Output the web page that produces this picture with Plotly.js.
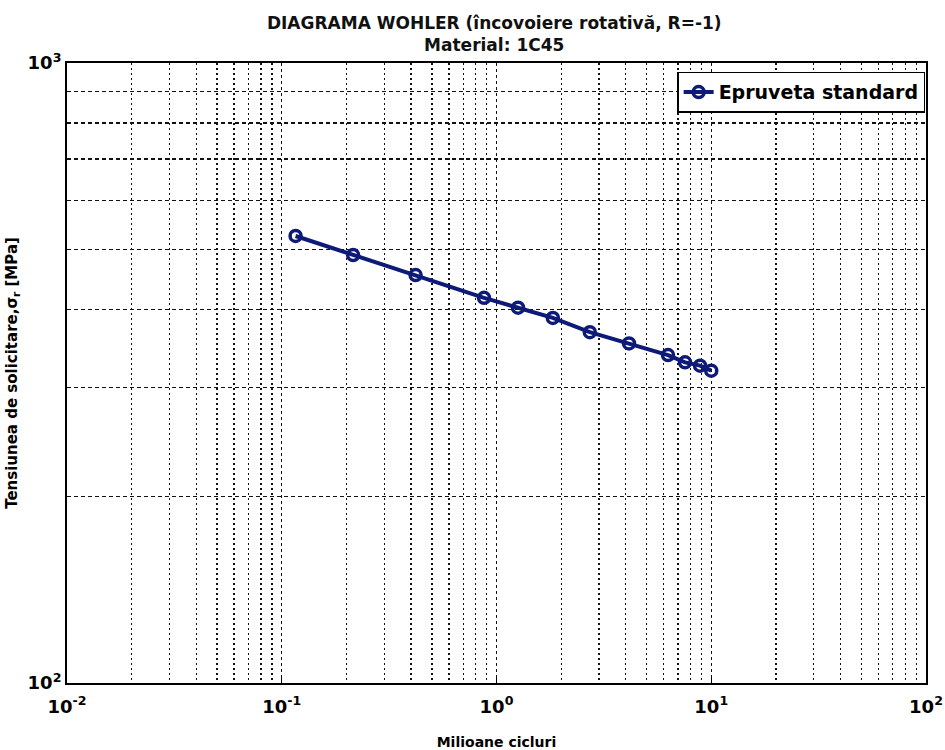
<!DOCTYPE html>
<html>
<head>
<meta charset="utf-8">
<script src="https://cdn.plot.ly/plotly-3.0.1.min.js"></script>
<style>html,body{margin:0;padding:0;background:#fff;}#chart{width:945px;height:750px;}</style>
</head>
<body>
<div id="chart"></div>
<script>
// Data (millions of cycles vs stress, MPa)
const cycles = [0.116, 0.215, 0.42, 0.875, 1.26, 1.83, 2.72, 4.14, 6.29, 7.55, 8.87, 10.0];
const stress = [526, 490, 455, 418, 403, 388, 368, 353, 338, 329, 325, 319];
const seriesName = "Epruveta standard";

const xTickVals = [0.01, 0.1, 1, 10, 100];
const xTickText = ["10<sup>-2</sup>", "10<sup>-1</sup>", "10<sup>0</sup>", "10<sup>1</sup>", "10<sup>2</sup>"];
const yTickVals = [100, 1000];
const yTickText = ["10<sup>2</sup>", "10<sup>3</sup>"];

const xMinorTicks = [0.02,0.03,0.04,0.05,0.06,0.07,0.08,0.09,
                     0.2,0.3,0.4,0.5,0.6,0.7,0.8,0.9,
                     2,3,4,5,6,7,8,9,
                     20,30,40,50,60,70,80,90];
const yMinorTicks = [200,300,400,500,600,700,800,900];

const gridCol = "#111";
const fontFam = "'DejaVu Sans', Verdana, sans-serif";

const trace = {
  x: cycles, y: stress, name: seriesName,
  type: "scatter", mode: "lines+markers",
  line: {color: "#0d1a78", width: 4},
  marker: {symbol: "circle-open", size: 11, color: "#0d1a78", line: {width: 3.5, color: "#0d1a78"}}
};

const layout = {
  width: 945, height: 750,
  margin: {l: 67, r: 19, t: 63, b: 67},
  paper_bgcolor: "#fff", plot_bgcolor: "#fff",
  font: {family: fontFam, color: "#000"},
  title: {text: "DIAGRAMA WOHLER (încovoiere rotativă, R=-1)<br>Material: 1C45",
          font: {size: 17, weight: "bold", family: fontFam, color: "#111"},
          x: 0.523, xanchor: "center", yref: "container", y: 0.962, yanchor: "middle"},
  xaxis: {
    type: "log", range: [-2, 2], tickmode: "array", tickvals: xTickVals, ticktext: xTickText,
    showline: true, mirror: true, linecolor: "#000", linewidth: 2,
    ticks: "inside", ticklen: 5, tickcolor: "#000",
    tickfont: {size: 18, weight: "bold"}, ticklabelstandoff: 6,
    showgrid: true, gridcolor: gridCol, griddash: "3px,3px", gridwidth: 1.3,
    minor: {tickmode: "array", tickvals: xMinorTicks, showgrid: true, gridcolor: gridCol, griddash: "2px,3px", gridwidth: 1.3, ticks: ""},
    zeroline: false,
    title: {text: "Milioane cicluri", font: {size: 14, weight: "bold"}, standoff: 22}
  },
  yaxis: {
    type: "log", range: [2, 3], tickmode: "array", tickvals: yTickVals, ticktext: yTickText,
    showline: true, mirror: true, linecolor: "#000", linewidth: 2,
    ticks: "inside", ticklen: 5, tickcolor: "#000",
    tickfont: {size: 18, weight: "bold"},
    showgrid: true, gridcolor: gridCol, griddash: "4px,3px", gridwidth: 1.3,
    minor: {tickmode: "array", tickvals: yMinorTicks, showgrid: true, gridcolor: gridCol, griddash: "4px,3px", gridwidth: 1.3, ticks: ""},
    zeroline: false,
    title: {text: "Tensiunea de solicitare,σ<sub>r</sub> [MPa]", font: {size: 15, weight: "bold"}, standoff: 6}
  },
  showlegend: true,
  legend: {x: 0.999, xanchor: "right", y: 0.986, yanchor: "top",
           bgcolor: "#fff", bordercolor: "#000", borderwidth: 1.5,
           font: {size: 19, weight: "bold"}}
};

Plotly.newPlot("chart", [trace], layout, {displayModeBar: false, staticPlot: true});
</script>
</body>
</html>
